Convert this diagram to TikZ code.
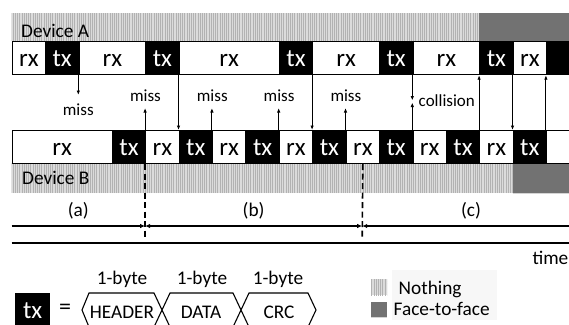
\documentclass[tikz,border=0pt]{standalone}
\usepackage{fontspec}
\setmainfont{Carlito}
\usetikzlibrary{arrows.meta,patterns,patterns.meta}
\tikzset{
  cellbase/.style={draw=black, line width=1.2pt, minimum height=33pt, inner sep=0pt,
    anchor=north west, font=\fontsize{25}{25}\selectfont, text height=17.5pt, text depth=0pt},
  rxcell/.style={cellbase, fill=white, text=black},
  txcell/.style={cellbase, fill=black, text=white},
  bkcell/.style={cellbase, fill=black},
  whcell/.style={cellbase, fill=white},
  nothing/.style={fill=black!14, postaction={pattern={Lines[angle=90,distance=2.2pt,line width=0.8pt]}, pattern color=black!30}},
  ftf/.style={fill=black!50, postaction={pattern={Dots[distance=2pt,radius=0.6pt]}, pattern color=black!72}},
  sig/.style={line width=0.9pt, -{Latex[length=4.5pt,width=3.5pt]}},
  intv/.style={line width=1.8pt},
  tipe/.style={-{Latex[length=5pt,width=4.5pt]}},
  tipb/.style={{Latex[length=5pt,width=4.5pt]}-{Latex[length=5pt,width=4.5pt]}},
  tips/.style={{Latex[length=5pt,width=4.5pt]}-},
  dashv/.style={line width=1.6pt, dash pattern=on 6pt off 3.5pt},
  lbl/.style={font=\fontsize{17}{17}\selectfont, inner sep=0pt},
  mid/.style={font=\fontsize{19.3}{19.3}\selectfont, inner sep=0pt},
  big/.style={font=\fontsize{24}{24}\selectfont, inner sep=0pt},
}
\begin{document}
\begin{tikzpicture}[x=1pt,y=-1pt]
\useasboundingbox (0,0) rectangle (569,324);
\fill[white] (0,0) rectangle (569,324);
\clip (0,0) rectangle (569,324);
% bands
\path[nothing] (11.5,13) rectangle (479.1,41);
\path[ftf] (479.1,13) rectangle (580,41);
\path[nothing] (11.5,163) rectangle (512.5,193);
\path[ftf] (512.5,163) rectangle (580,193);
\node[mid, anchor=base west] (devA) at (21,37) {Device A};
\node[mid, anchor=base west] (devB) at (22,184) {Device B};
% device A row
\node[rxcell, minimum width=33.4pt] (A0) at (11.5,41) {rx};
\node[txcell, minimum width=33.4pt] (A1) at (44.9,41) {tx};
\node[rxcell, minimum width=66.8pt] (A2) at (78.3,41) {rx};
\node[txcell, minimum width=33.4pt] (A4) at (145.1,41) {tx};
\node[rxcell, minimum width=100.2pt] (A5) at (178.5,41) {rx};
\node[txcell, minimum width=33.4pt] (A8) at (278.7,41) {tx};
\node[rxcell, minimum width=66.8pt] (A9) at (312.1,41) {rx};
\node[txcell, minimum width=33.4pt] (A11) at (378.9,41) {tx};
\node[rxcell, minimum width=66.8pt] (A12) at (412.3,41) {rx};
\node[txcell, minimum width=33.4pt] (A14) at (479.1,41) {tx};
\node[rxcell, minimum width=33.4pt] (A15) at (512.5,41) {rx};
\node[bkcell, minimum width=60pt] (A16) at (545.9,41) {};
% device B row
\node[rxcell, minimum width=100.2pt] (B0) at (11.5,130) {rx};
\node[txcell, minimum width=33.4pt] (B3) at (111.7,130) {tx};
\node[rxcell, minimum width=33.4pt] (B4) at (145.1,130) {rx};
\node[txcell, minimum width=33.4pt] (B5) at (178.5,130) {tx};
\node[rxcell, minimum width=33.4pt] (B6) at (211.9,130) {rx};
\node[txcell, minimum width=33.4pt] (B7) at (245.3,130) {tx};
\node[rxcell, minimum width=33.4pt] (B8) at (278.7,130) {rx};
\node[txcell, minimum width=33.4pt] (B9) at (312.1,130) {tx};
\node[rxcell, minimum width=33.4pt] (B10) at (345.5,130) {rx};
\node[txcell, minimum width=33.4pt] (B11) at (378.9,130) {tx};
\node[rxcell, minimum width=33.4pt] (B12) at (412.3,130) {rx};
\node[txcell, minimum width=33.4pt] (B13) at (445.7,130) {tx};
\node[rxcell, minimum width=33.4pt] (B14) at (479.1,130) {rx};
\node[txcell, minimum width=33.4pt] (B15) at (512.5,130) {tx};
\node[whcell, minimum width=60pt] (B16) at (545.9,130) {};
% signals
\coordinate (e1) at (78.3,95);
\coordinate (e2) at (145.1,108);
\coordinate (e3) at (211.9,108);
\coordinate (e4) at (278.7,108);
\coordinate (e5) at (345.5,108);
\coordinate (c1) at (412.3,100.5);
\coordinate (c2) at (412.3,102.5);
\draw[sig] (A2.south west) -- (e1);
\draw[sig] (B4.north west) -- (e2);
\draw[sig] (A5.south west) -- (B5.north west);
\draw[sig] (B6.north west) -- (e3);
\draw[sig] (B8.north west) -- (e4);
\draw[sig] (A9.south west) -- (B9.north west);
\draw[sig] (B10.north west) -- (e5);
\draw[sig] (A12.south west) -- (c1);
\draw[sig] (B12.north west) -- (c2);
\draw[sig] (B14.north west) -- (A14.south west);
\draw[sig] (A15.south west) -- (B15.north west);
\draw[sig] (B16.north west) -- (A16.south west);
\node[lbl, anchor=base] (m1) at (78.3,115) {miss};
\node[lbl, anchor=base] (m2) at (145.5,101.5) {miss};
\node[lbl, anchor=base] (m3) at (212.3,101.5) {miss};
\node[lbl, anchor=base] (m4) at (279.1,101.5) {miss};
\node[lbl, anchor=base] (m5) at (345.9,101.5) {miss};
\node[lbl, anchor=base west] (col) at (418.5,106) {collision};
% dashed separators
\coordinate (d1) at (145.1,239);
\coordinate (d2) at (362.2,239);
\draw[dashv] (B4.south west) -- (d1);
\draw[dashv] (B10.south) -- (d2);
% intervals
\coordinate (i0) at (11.5,226);
\coordinate (i1) at (145.1,226);
\coordinate (i2) at (362.2,226);
\coordinate (i3) at (585,226);
\draw[intv, tipe] (i0) -- (i1);
\draw[intv, tipb] (i1) -- (i2);
\draw[intv, tips] (i2) -- (i3);
\node[mid, anchor=base] (la) at (78.3,216) {(a)};
\node[mid, anchor=base] (lb) at (253.6,216) {(b)};
\node[mid, anchor=base] (lc) at (471,216) {(c)};
% time axis
\coordinate (t0) at (11.5,243);
\coordinate (t1) at (585,243);
\draw[line width=2pt] (t0) -- (t1);
\node[mid, anchor=base east] (time) at (568.5,264) {time};
% packet legend
\node[txcell, minimum width=34pt] (txl) at (15,293) {tx};
\node[big, anchor=center] (eq) at (65,309) {=};
\draw[line width=1.1pt, line join=miter] (82,310) -- (89,293) -- (154,293) -- (170,327) -- (233,327)
  -- (249,293) -- (308,293) -- (316,310) -- (308,327) -- (249,327) -- (233,293) -- (170,293)
  -- (154,327) -- (89,327) -- cycle;
\node[mid, anchor=base] (hd) at (122,318) {HEADER};
\node[mid, anchor=base] (dt) at (201,318) {DATA};
\node[mid, anchor=base] (crc) at (279,318) {CRC};
\node[mid, anchor=base] (b1) at (122,284) {1-byte};
\node[mid, anchor=base] (b2) at (202,284) {1-byte};
\node[mid, anchor=base] (b3) at (278,284) {1-byte};
% pattern legend
\fill[black!3] (392,270) rectangle (497,320);
\path[nothing] (371,279) rectangle (387,295);
\path[ftf] (371,302) rectangle (387,317);
\node[mid, anchor=base west] (ln) at (398.5,294) {Nothing};
\node[mid, anchor=base west] (lf) at (393.5,315) {Face-to-face};
\end{tikzpicture}
\end{document}
